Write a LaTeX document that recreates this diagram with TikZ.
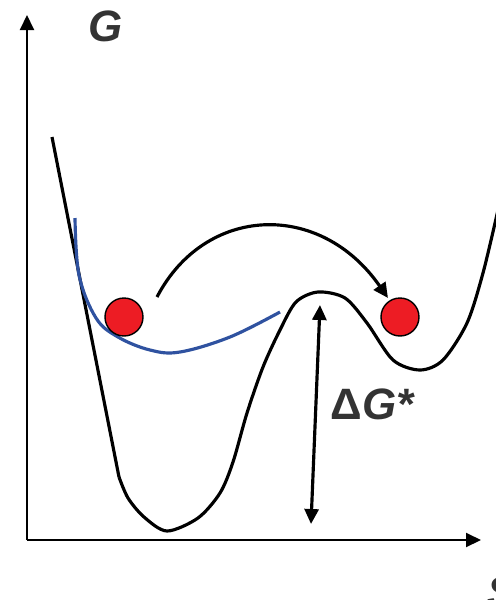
\documentclass[tikz,border=0pt]{standalone}
\usepackage{fontspec}
\setmainfont{Liberation Sans}
\usepackage{tikz}
\usetikzlibrary{arrows.meta, positioning}
\definecolor{ballred}{RGB}{237,28,36}
\definecolor{fitblue}{RGB}{47,82,160}
\definecolor{labelgray}{RGB}{51,51,51}

\begin{document}
\begin{tikzpicture}[
  x=0.02cm, y=-0.02cm,
  ax/.style={line width=1.2pt, -{Triangle[length=3mm, width=2.8mm]}},
  curve/.style={line width=1.8pt, line join=round},
  fit/.style={line width=1.8pt, color=fitblue},
  ball/.style={circle, draw, line width=0.8pt, fill=ballred, minimum size=0.76cm, inner sep=0pt},
  lbl/.style={font=\fontsize{25}{28}\selectfont\bfseries, text=labelgray, inner sep=0pt},
  a/.style={line width=1.8pt, -{Triangle[length=3mm, width=2.8mm]}}
]
\useasboundingbox (0,0) rectangle (495,600);

% ---- axes ----
\coordinate (origin) at (27,540);
\coordinate (gtop) at (27,15);
\coordinate (sright) at (481,540);
\draw[ax] (origin) -- (gtop);
\draw[ax] (origin) -- (sright);
\node[lbl] (glabel) at (106,26) {\itshape G};
\node[lbl, anchor=base west] (slabel) at (487,607) {\itshape S};

% ---- free energy profile ----
\coordinate (legtop) at (52,137);
\coordinate (legbot) at (119,477);
\draw[curve] (legtop) -- (legbot);
\draw[curve] plot[smooth, tension=0.5] coordinates {
  (119,477) (128,498) (144,517) (167,531) (198,518) (220,493)
  (233,462) (247,413) (263,367) (280,330) (296,302) (318,292)
  (345,298) (367,323) (393,360) (420,370) (443,360) (467,323)
  (483,273) (498,210)};

% ---- harmonic fit of the left well ----
\draw[fit] plot[smooth, tension=0.6] coordinates {
  (75,218) (79,275) (96,318) (118,337) (150,350) (180,352) (230,337) (280,312)};

% ---- balls ----
\node[ball] (left) at (124,317) {};
\node[ball] (right) at (400,317) {};

% ---- hop between wells ----
\coordinate (hopstart) at (157,297);
\coordinate (hopend) at (388,298);
\draw[a] (hopstart) .. controls (205,205) and (320,200) .. (hopend);

% ---- barrier height ----
\coordinate (bartop) at (320,305);
\coordinate (barbot) at (311,524);
\draw[line width=1.8pt, {Triangle[length=3mm, width=2.8mm]}-{Triangle[length=3mm, width=2.8mm]}] (barbot) -- (bartop);
\node[lbl] (dg) at (372,404) {Δ\itshape G*};

\end{tikzpicture}
\end{document}
